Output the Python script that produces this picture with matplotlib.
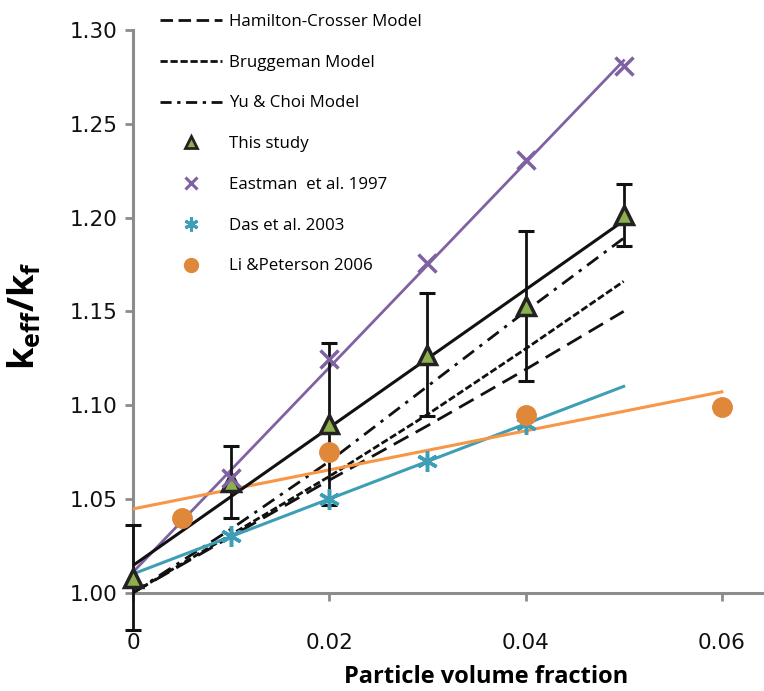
import numpy as np
import matplotlib
matplotlib.use('Agg')
import matplotlib.pyplot as plt
from matplotlib.lines import Line2D

plt.rcParams['font.family'] = ['Open Sans', 'DejaVu Sans']
plt.rcParams['mathtext.fontset'] = 'custom'
plt.rcParams['mathtext.bf'] = 'Open Sans:bold'
plt.rcParams['mathtext.rm'] = 'Open Sans:bold'

# model curves
phi_model = [0.0, 0.01, 0.02, 0.03, 0.04, 0.05]
hamilton = [1.000, 1.030, 1.060, 1.089, 1.119, 1.150]
bruggeman = [1.000, 1.031, 1.062, 1.095, 1.130, 1.166]
yu_choi = [1.000, 1.034, 1.070, 1.110, 1.150, 1.189]

# measurements
phi_study = [0.0, 0.01, 0.02, 0.03, 0.04, 0.05]
k_study = [1.008, 1.059, 1.090, 1.127, 1.153, 1.2015]
err_study = [0.028, 0.019, 0.043, 0.033, 0.040, 0.0165]

phi_eastman = [0.01, 0.02, 0.03, 0.04, 0.05]
k_eastman = [1.061, 1.1246, 1.176, 1.2308, 1.2806]

phi_das = [0.01, 0.02, 0.03, 0.04]
k_das = [1.030, 1.050, 1.070, 1.090]

phi_li = [0.005, 0.02, 0.04, 0.06]
k_li = [1.040, 1.0748, 1.0949, 1.0991]

BLACK = '#111111'
PURPLE = '#7F62A1'
TEAL = '#3E9EB5'
ORANGE_LINE = '#F79646'
ORANGE_DOT = '#E0883A'
GREEN = '#8DB04C'
GREY = '#8C8C8C'

fig = plt.figure(figsize=(7.64, 6.91), dpi=100)
ax = fig.add_axes([133/764, 1 - 634/691, 630/764, (634 - 30)/691])


def trend(x, y, x0, x1):
    a, b = np.polyfit(x, y, 1)
    xs = np.array([x0, x1])
    return xs, a*xs + b


ax.plot(phi_model, hamilton, color=BLACK, lw=2.0, dashes=(6.0, 3.0), zorder=3)
ax.plot(phi_model, bruggeman, color=BLACK, lw=2.0, dashes=(2.6, 1.0), zorder=3)
ax.plot(phi_model, yu_choi, color=BLACK, lw=2.0, dashes=(5.0, 2.5, 1.2, 2.5), zorder=3)

xs, ys = trend(phi_eastman, k_eastman, 0.0, 0.05)
ax.plot(xs, ys, color=PURPLE, lw=2.0, zorder=4)
xs, ys = trend(phi_das, k_das, 0.0, 0.05)
ax.plot(xs, ys, color=TEAL, lw=2.2, zorder=4)
xs, ys = trend(phi_li, k_li, 0.0, 0.06)
ax.plot(xs, ys, color=ORANGE_LINE, lw=2.2, zorder=4)
xs, ys = trend(phi_study, k_study, 0.0, 0.05)
ax.plot(xs, ys, color=BLACK, lw=2.2, zorder=5)

eb = ax.errorbar(phi_study, k_study, yerr=err_study, fmt='none', ecolor=BLACK,
                 elinewidth=2.0, capsize=6, capthick=2.2, zorder=6)
for artist in eb.lines[1] + eb.lines[2]:
    artist.set_clip_on(False)
ax.plot(phi_study, k_study, ls='none', marker='^', ms=12.5, mfc=GREEN,
        mec='#222222', mew=2.5, zorder=7, clip_on=False)
ax.plot(phi_eastman, k_eastman, ls='none', marker='x', ms=13, mew=2.5,
        color=PURPLE, zorder=7)
ax.plot(phi_das, k_das, ls='none', marker=(6, 2, 0), ms=15, mew=2.5,
        color=TEAL, zorder=7)
ax.plot(phi_li, k_li, ls='none', marker='o', ms=14, color=ORANGE_DOT,
        mec=ORANGE_DOT, zorder=7)

ax.set_xlim(0, 0.0642)
ax.set_ylim(0.978, 1.30)
ax.set_xticks([0, 0.02, 0.04, 0.06])
ax.set_xticklabels(['0', '0.02', '0.04', '0.06'])
ax.set_yticks(np.arange(1.00, 1.301, 0.05))
ax.set_yticklabels(['%.2f' % v for v in np.arange(1.00, 1.301, 0.05)])

for side in ('top', 'right'):
    ax.spines[side].set_visible(False)
ax.spines['bottom'].set_position(('data', 1.0))
ax.spines['left'].set_bounds(1.0, 1.30)
for side in ('left', 'bottom'):
    ax.spines[side].set_color(GREY)
    ax.spines[side].set_linewidth(2.2)
ax.tick_params(axis='both', colors=GREY, width=2.0, length=6,
               labelsize=15.5, labelcolor='#111111')
ax.tick_params(axis='x', pad=23)
ax.tick_params(axis='y', pad=5)
for lab in ax.get_xticklabels() + ax.get_yticklabels():
    lab.set_family('DejaVu Sans')

fig.text(486/764, 1 - 677/691, 'Particle volume fraction', fontsize=17,
         fontweight='bold', ha='center', va='center')
fig.text(24/764, 1 - 316/691, r'k$_{\mathbf{eff}}$/k$_{\mathbf{f}}$',
         fontsize=26, fontweight='bold', rotation=90, ha='center', va='center')

handles = [
    Line2D([], [], color=BLACK, lw=2.0, dashes=(4.5, 2.0)),
    Line2D([], [], color=BLACK, lw=2.0, dashes=(2.6, 1.0)),
    Line2D([], [], color=BLACK, lw=2.0, dashes=(4.0, 2.0, 1.2, 2.0)),
    Line2D([], [], ls='none', marker='^', ms=8, mfc=GREEN, mec='#222222', mew=2),
    Line2D([], [], ls='none', marker='x', ms=9, mew=2.2, color=PURPLE),
    Line2D([], [], ls='none', marker=(6, 2, 0), ms=10, mew=2.2, color=TEAL),
    Line2D([], [], ls='none', marker='o', ms=10, color=ORANGE_DOT),
]
labels = ['Hamilton-Crosser Model', 'Bruggeman Model', 'Yu & Choi Model',
          'This study', 'Eastman  et al. 1997', 'Das et al. 2003',
          'Li &Peterson 2006']
fig.legend(handles, labels, loc='upper left',
           bbox_to_anchor=(160/764, 1 - 14/691), frameon=False,
           fontsize=12.2, handlelength=3.65, handletextpad=0.4,
           labelspacing=1.46, borderpad=0, borderaxespad=0)

fig.savefig('out.png', dpi=100)
